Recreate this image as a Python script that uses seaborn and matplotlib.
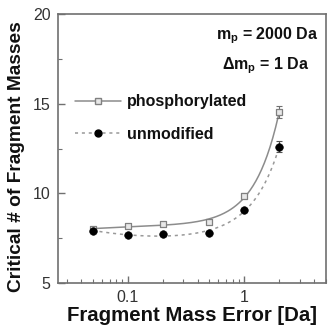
import numpy as np
import pandas as pd
import matplotlib
matplotlib.use("Agg")
import matplotlib.pyplot as plt
import seaborn as sns
from matplotlib.lines import Line2D
from matplotlib.ticker import LogLocator, NullFormatter, FixedLocator

# ---- data ----
mass_error = [0.05, 0.1, 0.2, 0.5, 1.0, 2.0]
phospho = [8.0, 8.18, 8.29, 8.42, 9.87, 14.55]
phospho_err = [0.08, 0.08, 0.08, 0.08, 0.15, 0.33]
unmod = [7.92, 7.69, 7.71, 7.8, 9.09, 12.6]
unmod_err = [0.08, 0.08, 0.08, 0.08, 0.1, 0.3]
series_names = ["phosphorylated", "unmodified"]
y_ticks = [5, 10, 15, 20]
x_tick_labels = ["0.1", "1"]

sns.set_theme(style="white")
plt.rcParams["font.family"] = ["Liberation Sans", "DejaVu Sans"]
plt.rcParams["mathtext.fontset"] = "custom"
plt.rcParams["mathtext.rm"] = "Liberation Sans:bold"
plt.rcParams["mathtext.it"] = "Liberation Sans:bold"
plt.rcParams["mathtext.bf"] = "Liberation Sans:bold"

fig = plt.figure(figsize=(3.29, 3.28), dpi=100)
ax = fig.add_axes([0.175, 0.137, 0.815, 0.820])

df = pd.DataFrame({"x": mass_error * 2,
                   "y": phospho + unmod,
                   "err": phospho_err + unmod_err,
                   "series": [series_names[0]] * 6 + [series_names[1]] * 6})

# smooth fitted curves (least squares fit computed from the data)
def fit_curve(x, y):
    x = np.asarray(x); y = np.asarray(y)
    def basis(v):
        lv = np.log10(v)
        return np.column_stack([np.ones_like(v), lv, lv ** 2, v ** 2])
    coef, *_ = np.linalg.lstsq(basis(x), y, rcond=None)
    xs = np.logspace(np.log10(x.min()), np.log10(x.max()), 200)
    return xs, basis(xs) @ coef

xs, ys = fit_curve(mass_error, phospho)
sns.lineplot(x=xs, y=ys, ax=ax, color="#8c8c8c", lw=1.1, linestyle="-")
xs, ys = fit_curve(mass_error, unmod)
sns.lineplot(x=xs, y=ys, ax=ax, color="#999999", lw=1.1, linestyle=(0, (2, 2.5)))

ax.errorbar(mass_error, phospho, yerr=phospho_err, fmt="none", ecolor="#707070",
            elinewidth=0.8, capsize=2, capthick=0.8)
ax.errorbar(mass_error, unmod, yerr=unmod_err, fmt="none", ecolor="#505050",
            elinewidth=0.8, capsize=2, capthick=0.8)
d1 = df[df.series == series_names[0]]
d2 = df[df.series == series_names[1]]
sns.scatterplot(data=d1, x="x", y="y", ax=ax, marker="s", s=24,
                facecolor="#e8e8e8", edgecolor="#808080", linewidth=0.9, zorder=5)
sns.scatterplot(data=d2, x="x", y="y", ax=ax, marker="o", s=30,
                color="black", edgecolor="black", zorder=6)

ax.set_xscale("log")
ax.set_xlim(0.025, 5)
ax.set_ylim(5, 20)
ax.set_yticks(y_ticks)
ax.yaxis.set_minor_locator(FixedLocator([7.5, 12.5, 17.5]))
ax.xaxis.set_major_locator(FixedLocator([0.1, 1]))
ax.set_xticklabels(x_tick_labels)
ax.xaxis.set_minor_locator(LogLocator(base=10, subs=np.arange(2, 10)))
ax.xaxis.set_minor_formatter(NullFormatter())

for s in ax.spines.values():
    s.set_color("#707070")
    s.set_linewidth(1.2)
ax.tick_params(which="both", direction="in", colors="#707070", labelcolor="#333333",
               bottom=True, left=True, top=False, right=False)
ax.tick_params(which="major", length=5, width=1.0, labelsize=11.5)
ax.tick_params(which="minor", length=3, width=0.8)
ax.tick_params(axis="y", pad=5)
ax.tick_params(axis="x", pad=5)

ax.set_xlabel("Fragment Mass Error [Da]", fontsize=14.7, fontweight="bold",
              color="#111111", labelpad=1)
ax.set_ylabel("Critical # of Fragment Masses", fontsize=13.8, fontweight="bold",
              color="#111111")
ax.yaxis.set_label_coords(-0.122, 0.47)

handles = [Line2D([], [], color="#8c8c8c", lw=1.1, marker="s", markersize=4.5,
                  markerfacecolor="#e8e8e8", markeredgecolor="#808080"),
           Line2D([], [], color="#999999", lw=1.1, linestyle=(0, (2, 2.5)), marker="o",
                  markersize=5, markerfacecolor="black", markeredgecolor="black")]
leg = ax.legend(handles, series_names, loc="upper left", bbox_to_anchor=(0.01, 0.755),
                frameon=False, handlelength=2.9, handletextpad=0.35, labelspacing=1.1,
                prop={"weight": "bold", "size": 11.5})
for t in leg.get_texts():
    t.set_color("#111111")

ax.text(0.975, 0.92, r"$\mathrm{m_p}$ = 2000 Da", transform=ax.transAxes, ha="right",
        va="center", fontsize=11.5, fontweight="bold", color="#111111")
ax.text(0.94, 0.81, r"$\mathrm{\Delta m_p}$ = 1 Da", transform=ax.transAxes, ha="right",
        va="center", fontsize=11.5, fontweight="bold", color="#111111")

fig.savefig("out.png", dpi=100)
